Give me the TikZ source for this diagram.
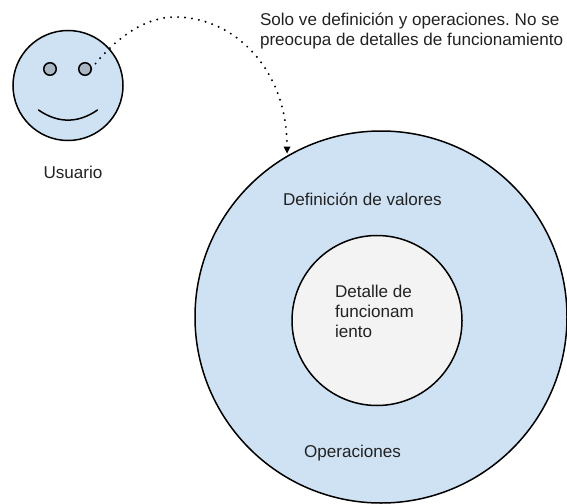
\documentclass[tikz,border=0pt]{standalone}
\usepackage{fontspec}
\setmainfont{Liberation Sans}
\usetikzlibrary{arrows.meta}
\definecolor{faceblue}{HTML}{CFE2F3}
\definecolor{coregrey}{HTML}{F3F3F3}
\definecolor{eyegrey}{HTML}{A9B7C4}
\definecolor{txt}{HTML}{222222}
\frenchspacing
\tikzset{
  disc/.style={circle,draw=black,line width=1.5pt,inner sep=0pt,outer sep=0pt},
  lbl/.style={anchor=base west,inner sep=0pt,outer sep=0pt,text=txt,font=\fontsize{17.1}{20}\selectfont\frenchspacing},
  dotline/.style={line width=2.2pt,line cap=round,dash pattern=on 0pt off 7pt}
}
\begin{document}
\begin{tikzpicture}[x=1pt,y=-1pt]
\useasboundingbox (0,0) rectangle (567,503);
\node[disc,fill=faceblue,minimum size=110pt] (face) at (68,85.5) {};
\node[disc,fill=eyegrey,minimum size=12.5pt] (eyeL) at (50,69) {};
\node[disc,fill=eyegrey,minimum size=12.5pt] (eyeR) at (85,69) {};
\coordinate (smileL) at (38.5,110);
\coordinate (smileR) at (97.5,110);
\draw[line width=1.5pt,line cap=round] (smileL) .. controls (58,123.5) and (78,123.5) .. (smileR);
\node[disc,fill=faceblue,minimum size=372pt] (big) at (381,317) {};
\node[disc,fill=coregrey,minimum size=170pt] (core) at (377,320.5) {};
\coordinate (top) at (175,17);
\coordinate (tip) at (287,153.5);
\draw[dotline] (eyeR.east) .. controls (115,38) and (145,17) .. (top)
  .. controls (235,17) and (287,70) .. (287,146);
\fill (283.5,146.5) -- (290.5,146.5) -- (tip) -- cycle;
\node[lbl] (note1) at (260,26) {Solo ve definición y operaciones. No se};
\node[lbl] (note2) at (260,46) {preocupa de detalles de funcionamiento};
\node[lbl] (user) at (43.5,178) {Usuario};
\node[lbl] (defn) at (283,205) {Definición de valores};
\node[lbl] (det1) at (335,297) {Detalle de};
\node[lbl] (det2) at (335,317) {funcionam};
\node[lbl] (det3) at (335,337) {iento};
\node[lbl] (ops) at (304,457) {Operaciones};
\end{tikzpicture}
\end{document}
